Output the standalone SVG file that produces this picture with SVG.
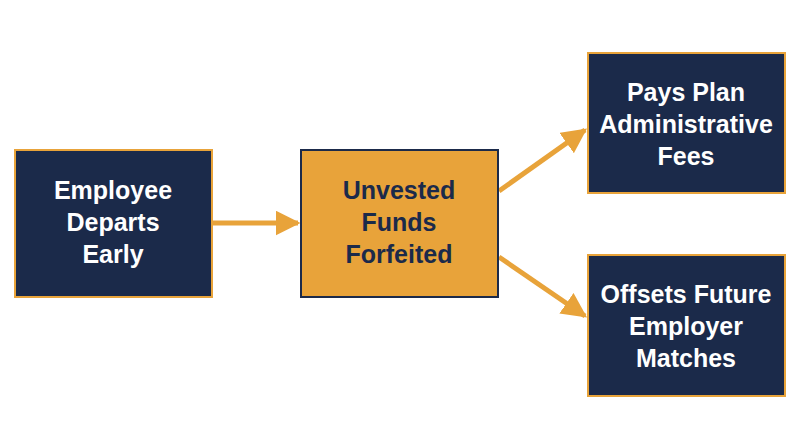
<svg xmlns="http://www.w3.org/2000/svg" width="800" height="447" viewBox="0 0 800 447">
<style>
.n{fill:#1b2a4a;stroke:#e8a33a;stroke-width:2}
.o{fill:#e8a33a;stroke:#1b2a4a;stroke-width:2}
text{font-family:"Liberation Sans",Arial,sans-serif;font-size:25px;font-weight:bold;text-anchor:middle}
.w{fill:#ffffff}.d{fill:#1b2a4a}
.c{stroke:#e8a33a;stroke-width:5;fill:none}
</style>
<defs><marker id="a" viewBox="0 0 10 10" refX="9" refY="5" markerWidth="5" markerHeight="5" orient="auto" markerUnits="strokeWidth"><path d="M0,0L10,5L0,10z" fill="#e8a33a"/></marker></defs>
<rect width="800" height="447" fill="#fff"/>
<g id="connectors">
<line class="c" x1="213" y1="223" x2="298" y2="223" marker-end="url(#a)"/>
<line class="c" x1="499" y1="191" x2="585" y2="130" marker-end="url(#a)"/>
<line class="c" x1="499" y1="257" x2="585" y2="316" marker-end="url(#a)"/>
</g>
<g id="n1"><rect class="n" x="15" y="150" width="197" height="147"/><text class="w" x="113" y="199">Employee</text><text class="w" x="113" y="231">Departs</text><text class="w" x="113" y="263">Early</text></g>
<g id="n2"><rect class="o" x="301" y="150" width="197" height="147"/><text class="d" x="399" y="199">Unvested</text><text class="d" x="399" y="231">Funds</text><text class="d" x="399" y="263">Forfeited</text></g>
<g id="n3"><rect class="n" x="588" y="53" width="197" height="140"/><text class="w" x="686" y="101">Pays Plan</text><text class="w" x="686" y="133">Administrative</text><text class="w" x="686" y="165">Fees</text></g>
<g id="n4"><rect class="n" x="588" y="255" width="197" height="141"/><text class="w" x="686" y="303">Offsets Future</text><text class="w" x="686" y="335">Employer</text><text class="w" x="686" y="367">Matches</text></g>
</svg>
